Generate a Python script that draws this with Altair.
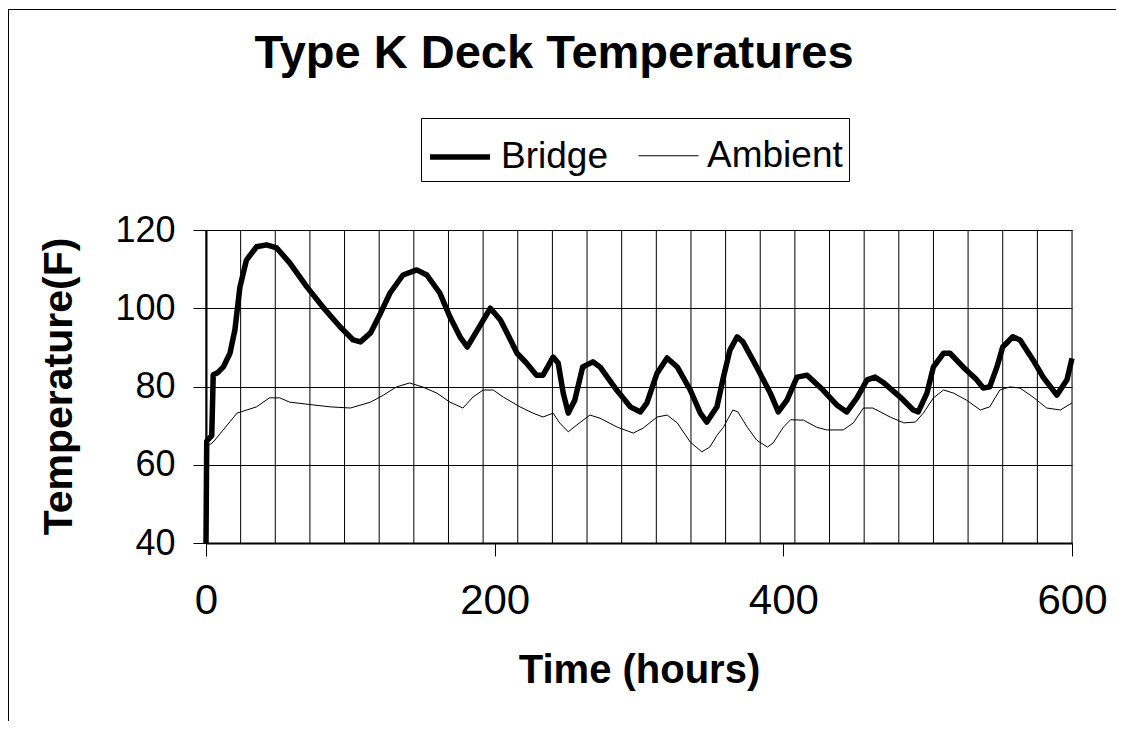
import altair as alt
import pandas as pd

# ---- data ----
series_names = ["Bridge", "Ambient"]

bridge_hours = [0, 0.5, 4, 5, 8, 12, 16.6, 20, 23.5, 28, 35, 42, 49, 58, 70, 81, 93, 102, 107, 114,
                121, 127.5, 136.5, 146, 153, 162, 169, 176, 181, 188, 197, 204, 211, 215.5, 222, 229,
                233.5, 240.5, 244, 247.5, 251, 255.5, 261, 268, 273, 284.5, 294, 301, 305.5, 312.5,
                319.5, 326.5, 335.5, 342.5, 347, 354, 358.5, 363, 368, 372, 381.5, 391, 396.5, 402.5,
                409.5, 416.5, 427.5, 437, 444, 451, 458, 463.5, 469, 481, 490, 493.5, 499.5, 504, 511,
                515.5, 524.5, 534, 538.5, 543, 548, 552, 559, 564, 573, 580, 589.5, 596.5, 600]
bridge_temps = [40, 66, 67.5, 83, 83.5, 85, 88.5, 94.4, 105.4, 112.3, 115.7, 116.2, 115.4, 111.6, 105.4,
                100.3, 95.2, 91.9, 91.4, 93.7, 98.8, 103.9, 108.5, 109.8, 108.5, 103.9, 97.8, 92.7, 90.1,
                94.4, 100, 97, 91.9, 88.5, 86, 82.9, 82.9, 87.5, 86, 78.3, 73.2, 76.5, 85, 86.3, 85, 79.1,
                74.8, 73.5, 75.8, 83.4, 87.3, 85, 79.1, 73.2, 70.9, 74.8, 82.4, 89.3, 92.7, 91.4, 85, 78.3,
                73.5, 76.5, 82.4, 82.9, 79.1, 75.3, 73.5, 77.1, 81.7, 82.4, 81.1, 77.3, 74, 73.5, 78.3, 85,
                88.5, 88.5, 85, 81.7, 79.6, 79.9, 85, 90.1, 92.7, 91.9, 86.8, 82.4, 77.8, 81.7, 87.2]

ambient_hours = [0, 1.4, 5, 21.5, 35, 44, 51, 58, 74, 86, 100, 114, 123, 132, 141, 150, 160, 169, 178,
                 185, 192, 199, 206, 217.5, 226.5, 233.5, 240.5, 245, 251, 257, 266, 273, 285, 296, 303,
                 312.5, 319.5, 326.5, 335.5, 343.5, 349, 354, 358.5, 365, 368.5, 375, 381.5, 389, 393,
                 400, 405, 414, 423, 430, 441.5, 448.5, 455.5, 462, 474, 483.5, 491.5, 497, 504, 511,
                 518, 527, 536.5, 543, 550, 557, 564, 573, 582.5, 592, 600]
ambient_temps = [64.5, 64.8, 65.8, 73.2, 74.8, 77.1, 77.1, 76, 75.3, 74.8, 74.5, 76, 77.8, 79.9, 80.9,
                 79.9, 78.3, 76, 74.5, 77.3, 79.1, 79.1, 77.3, 74.8, 73.2, 72.2, 73.2, 70.7, 68.4, 70.2,
                 72.7, 71.9, 69.6, 68.1, 69.4, 72.2, 72.7, 70.7, 65.8, 63.3, 64.5, 67.5, 69.6, 74, 73.5,
                 69.6, 66.3, 64.5, 65.6, 69.6, 71.5, 71.4, 69.6, 68.9, 68.9, 70.7, 74.5, 74.5, 72.2, 70.7,
                 70.9, 73.2, 77.1, 79.1, 78.3, 76.5, 74, 74.8, 79.1, 79.9, 79.6, 77.3, 74.5, 74, 75.8]

grid_hours = list(range(0, 601, 24))
x_tick_values = [0, 200, 400, 600]
y_tick_values = [40, 60, 80, 100, 120]

title_text = "Type K Deck Temperatures"
x_title = "Time (hours)"
y_title = "Temperature(F)"

FONT = "Liberation Sans"
W, H = 866, 313

df = pd.concat([
    pd.DataFrame({"hours": bridge_hours, "temp": bridge_temps, "series": series_names[0],
                  "idx": range(len(bridge_hours))}),
    pd.DataFrame({"hours": ambient_hours, "temp": ambient_temps, "series": series_names[1],
                  "idx": range(len(ambient_hours))}),
])

x_scale = alt.Scale(domain=[0, 600], nice=False, zero=False)
y_scale = alt.Scale(domain=[40, 120], nice=False, zero=False)

x_axis = alt.Axis(values=x_tick_values, grid=False, title=x_title, labelFontSize=42, labelFont=FONT,
                  labelColor="black", labelBaseline="alphabetic", labelFlush=False, labelOverlap=False,
                  tickSize=13, labelPadding=57,
                  tickColor="black", domainColor="black", domainWidth=2,
                  titleFont=FONT, titleFontSize=40, titleFontWeight="bold", titleColor="black",
                  titleY=139, titleBaseline="alphabetic")
y_axis = alt.Axis(values=y_tick_values, grid=True, gridColor="black", gridOpacity=1, gridWidth=1,
                  title=y_title, labelFontSize=36, labelFont=FONT, labelColor="black",
                  labelFlush=False, labelOverlap=False,
                  tickSize=13, labelPadding=18, tickColor="black", domainColor="black", domainWidth=2,
                  titleFont=FONT, titleFontSize=41, titleFontWeight="bold", titleColor="black",
                  titleAngle=270, titleX=-147, titleY=156, titleAlign="center", titleBaseline="middle")

grid = alt.Chart(pd.DataFrame({"h": grid_hours})).mark_rule(color="black", strokeWidth=1).encode(
    x=alt.X("h:Q", scale=x_scale, axis=x_axis)
)

lines = alt.Chart(df).mark_line(color="black", strokeJoin="round").encode(
    x=alt.X("hours:Q", scale=x_scale, axis=x_axis),
    y=alt.Y("temp:Q", scale=y_scale, axis=y_axis),
    strokeWidth=alt.StrokeWidth(
        "series:N",
        scale=alt.Scale(domain=series_names, range=[5.5, 1]),
        legend=alt.Legend(title=None, orient="none", legendX=215, legendY=-112, direction="horizontal",
                          symbolType="stroke", symbolSize=3600, symbolStrokeColor="black",
                          labelFontSize=37, labelFont=FONT, labelColor="black", labelOffset=8,
                          strokeColor="black", fillColor="white", padding=6, columnPadding=28),
    ),
    detail="series:N",
    order=alt.Order("idx:Q"),
)

title = alt.Chart(pd.DataFrame({"t": [title_text]})).mark_text(
    font=FONT, fontSize=47, fontWeight="bold", color="black", align="center", baseline="alphabetic"
).encode(x=alt.value(348), y=alt.value(-162), text="t:N")

frame_left = alt.Chart(pd.DataFrame({"a": [0]})).mark_rule(color="black", strokeWidth=1).encode(
    x=alt.value(-197.5), y=alt.value(-221), y2=alt.value(500))
frame_top = alt.Chart(pd.DataFrame({"a": [0]})).mark_rule(color="black", strokeWidth=1).encode(
    x=alt.value(-198), x2=alt.value(918), y=alt.value(-220.5))

chart = alt.layer(grid, lines, title, frame_left, frame_top).properties(
    width=W, height=H,
    autosize=alt.AutoSizeParams(type="none"),
    padding={"left": 198, "top": 222, "right": 44, "bottom": 178},
).configure_view(stroke="black", strokeWidth=2).configure(background="white")

chart.save("out.html", embed_options={"renderer": "svg", "actions": False})
